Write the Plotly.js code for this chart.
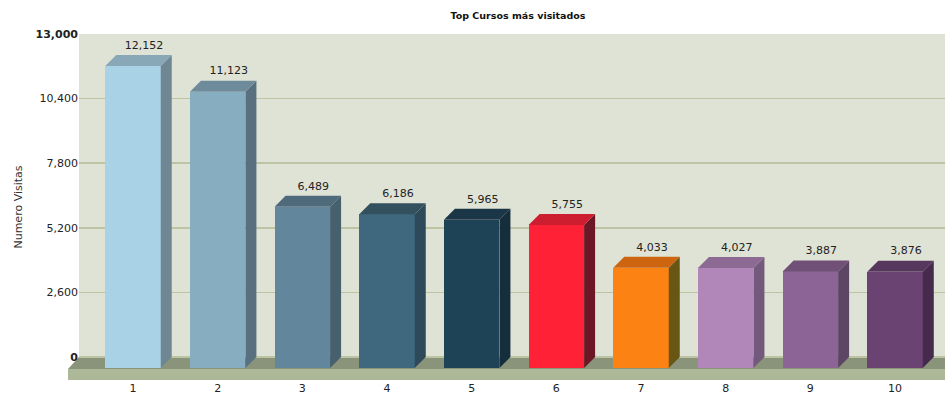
<!DOCTYPE html>
<html>
<head>
<meta charset="utf-8">
<script src="https://cdn.plot.ly/plotly-3.0.1.min.js"></script>
<style>html,body{margin:0;padding:0;background:#fff;}#chart{width:945px;height:394px;}</style>
</head>
<body>
<div id="chart"></div>
<script>
// ---- data ----
const categories = ['1', '2', '3', '4', '5', '6', '7', '8', '9', '10'];
const visits = [12152, 11123, 6489, 6186, 5965, 5755, 4033, 4027, 3887, 3876];
const valueLabels = ['12,152', '11,123', '6,489', '6,186', '5,965', '5,755', '4,033', '4,027', '3,887', '3,876'];
const frontColors = ['#AAD2E6', '#87ADC1', '#62879C', '#3F687F', '#1E4256', '#FF2236', '#FB8213', '#B087B8', '#8C6495', '#6B4373'];
const sideColors  = ['#6F8792', '#587080', '#46606E', '#2E4A5A', '#162E3C', '#6B1725', '#675614', '#735A7C', '#5D4566', '#452A4E'];
const topColors   = ['#88A8B8', '#6E8B9B', '#4F6A7B', '#33505F', '#1B3646', '#CC1E2E', '#CD6410', '#8C6A93', '#715078', '#58375E'];
const yTickVals = [0, 2600, 5200, 7800, 10400, 13000];
const yTickText = ['<b>0</b>', '2,600', '5,200', '7,800', '10,400', '<b>13,000</b>'];

// ---- geometry (pixels -> axis units) ----
const W = 945, H = 394;
const L = 79, R = 0, T = 34, B = 14;
const plotW = W - L - R, plotH = H - T - B;
const zeroPx = 357;                       // pixel row of value 0 on back wall
const yPerPx = 13000 / (zeroPx - T);
const yMin = -(H - B - zeroPx) * yPerPx;
const firstCenterPx = 133, stepPx = 84.67;
const xMin = 1 - (firstCenterPx - L) / stepPx;
const xMax = 1 + (W - R - firstCenterPx) / stepPx;
const depthPx = 11;
const dX = depthPx / stepPx;
const dY = depthPx * yPerPx;
const barW = 55.5 / stepPx;
const hw = barW / 2;
const xs = categories.map((c, i) => i + 1);

const traces = [];
// front faces as a real bar trace
traces.push({
  type: 'bar', x: xs, y: visits.map(v => v), base: -dY,
  width: barW, marker: {color: frontColors, line: {width: 0}},
  hoverinfo: 'skip', showlegend: false
});
// side + top faces
xs.forEach((c, i) => {
  const v = visits[i];
  traces.push({
    type: 'scatter', mode: 'lines', fill: 'toself', fillcolor: sideColors[i],
    line: {width: 0, color: sideColors[i]}, hoverinfo: 'skip', showlegend: false,
    x: [c + hw, c + hw + dX, c + hw + dX, c + hw, c + hw],
    y: [-dY, 0, v, v - dY, -dY]
  });
  traces.push({
    type: 'scatter', mode: 'lines', fill: 'toself', fillcolor: topColors[i],
    line: {width: 0, color: topColors[i]}, hoverinfo: 'skip', showlegend: false,
    x: [c - hw, c - hw + dX, c + hw + dX, c + hw, c - hw],
    y: [v - dY, v, v, v - dY, v - dY]
  });
});
// value labels
traces.push({
  type: 'scatter', mode: 'text', x: xs.map(c => c + dX), y: visits.map(v => v + 9 * yPerPx),
  text: valueLabels, textposition: 'middle center',
  textfont: {family: 'DejaVu Sans', size: 11, color: '#222'},
  hoverinfo: 'skip', showlegend: false, cliponaxis: false
});

const px = p => (p - L) / plotW;
const py = p => (H - B - p) / plotH;
const shapes = [
  // floor top (dark)
  {type: 'path', xref: 'paper', yref: 'paper', layer: 'below',
   path: `M ${px(68)} ${py(369)} L ${px(79)} ${py(357)} L ${px(945)} ${py(357)} L ${px(945)} ${py(369)} Z`,
   fillcolor: '#8A947A', line: {width: 0}},
  // floor front (light)
  {type: 'rect', xref: 'paper', yref: 'paper', layer: 'below',
   x0: px(68), x1: px(945), y0: py(380), y1: py(369),
   fillcolor: '#ACB898', line: {width: 0}}
];

const layout = {
  width: W, height: H,
  margin: {l: L, r: R, t: T, b: B, pad: 0},
  paper_bgcolor: '#FFFFFF', plot_bgcolor: '#DFE3D5',
  showlegend: false, bargap: 0,
  font: {family: 'DejaVu Sans', size: 11, color: '#222'},
  title: {text: '<b>Top Cursos más visitados</b>', font: {family: 'DejaVu Sans', size: 9.5, color: '#111'},
          x: px(518), xref: 'paper', xanchor: 'center', y: 1 - 16 / H, yref: 'container', yanchor: 'middle'},
  xaxis: {range: [xMin, xMax], tickvals: xs, ticktext: categories, showgrid: false, zeroline: false,
          showline: false, ticks: '', automargin: false, fixedrange: true,
          tickfont: {family: 'DejaVu Sans', size: 11, color: '#222'}},
  yaxis: {range: [yMin, 13000], tickvals: yTickVals, ticktext: yTickText, showgrid: true,
          gridcolor: '#BCC4A4', gridwidth: 1.5, zeroline: false, showline: false, ticks: '',
          automargin: false, fixedrange: true,
          tickfont: {family: 'DejaVu Sans', size: 11, color: '#222'},
          title: {text: 'Numero Visitas', font: {family: 'DejaVu Sans', size: 11, color: '#333'}, standoff: 10}},
  shapes: shapes
};

Plotly.newPlot('chart', traces, layout, {displayModeBar: false, staticPlot: true});
</script>
</body>
</html>
